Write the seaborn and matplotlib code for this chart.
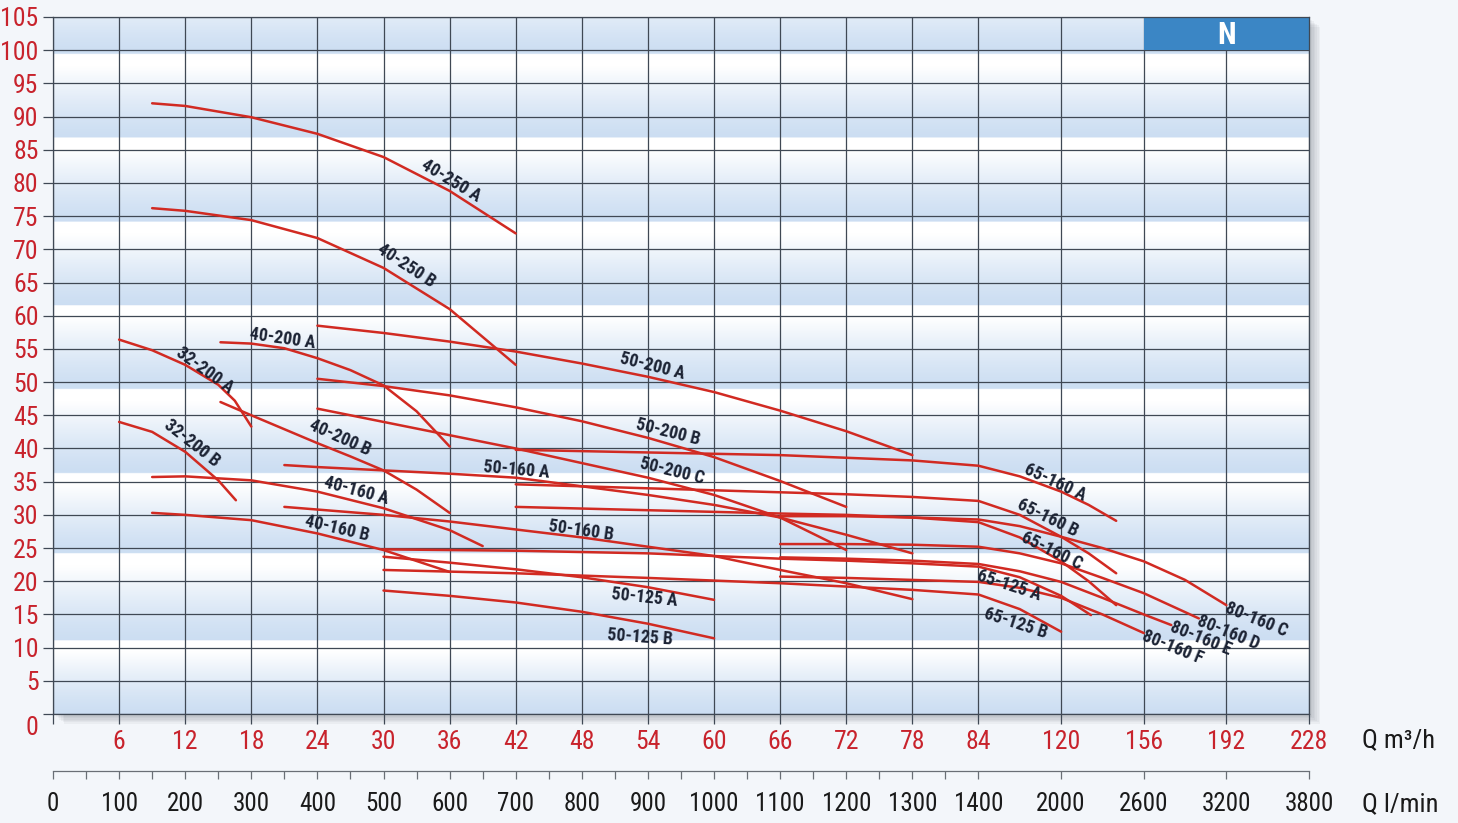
import os
import numpy as np
import pandas as pd
import matplotlib
matplotlib.use("Agg")
import matplotlib.pyplot as plt
import seaborn as sns
from matplotlib.patches import Rectangle
from matplotlib import font_manager as fm

# ---------------- data ----------------
q_ticks = [0, 6, 12, 18, 24, 30, 36, 42, 48, 54, 60, 66, 72, 78, 84, 120, 156, 192, 228]
lpm_major = [0, 100, 200, 300, 400, 500, 600, 700, 800, 900, 1000, 1100, 1200, 1300, 1400,
             2000, 2600, 3200, 3800]
lpm_minor = [50, 150, 250, 350, 450, 550, 650, 750, 850, 950, 1050, 1150, 1250, 1350]
h_ticks = list(range(0, 106, 5))

q_40_250_A = [9, 12, 18, 24, 30, 36, 42]
h_40_250_A = [92.0, 91.6, 89.9, 87.4, 83.9, 78.8, 72.4]
q_40_250_B = [9, 12, 18, 24, 30, 36, 42]
h_40_250_B = [76.2, 75.8, 74.4, 71.7, 67.2, 61.0, 52.6]
q_32_200_A = [6, 9, 12, 15, 16.5, 18]
h_32_200_A = [56.4, 54.8, 52.6, 49.6, 47.2, 43.3]
q_32_200_B = [6, 9, 12, 15, 16.6]
h_32_200_B = [44.0, 42.5, 39.5, 35.2, 32.2]
q_40_200_A = [15.2, 18, 21, 24, 27, 30, 33, 36]
h_40_200_A = [56.0, 55.8, 55.1, 53.6, 51.8, 49.5, 45.6, 40.3]
q_40_200_B = [15.2, 18, 21, 24, 27, 30, 33, 36]
h_40_200_B = [47.0, 45.0, 42.9, 40.8, 38.8, 36.7, 33.8, 30.3]
q_40_160_A = [9, 12, 18, 24, 30, 36, 39]
h_40_160_A = [35.7, 35.8, 35.2, 33.5, 31.0, 27.7, 25.3]
q_40_160_B = [9, 12, 18, 24, 30, 36]
h_40_160_B = [30.3, 30.0, 29.2, 27.2, 24.7, 21.4]
q_50_200_A = [24, 30, 36, 42, 48, 54, 60, 66, 72, 78]
h_50_200_A = [58.5, 57.4, 56.1, 54.6, 52.8, 50.8, 48.5, 45.7, 42.6, 39.0]
q_50_200_B = [24, 30, 36, 42, 48, 54, 60, 66, 72]
h_50_200_B = [50.5, 49.4, 48.0, 46.2, 44.1, 41.6, 38.7, 35.1, 31.2]
q_50_200_C = [24, 30, 36, 42, 48, 54, 60, 66, 72]
h_50_200_C = [46.0, 44.0, 42.0, 40.0, 37.8, 35.6, 33.0, 29.6, 24.7]
q_50_160_A = [21, 24, 30, 36, 42, 48, 54, 60, 66, 72, 78]
h_50_160_A = [37.5, 37.2, 36.7, 36.2, 35.6, 34.3, 33.0, 31.5, 29.6, 27.0, 24.2]
q_50_160_B = [21, 30, 36, 42, 48, 54, 60, 66, 72, 78]
h_50_160_B = [31.2, 30.0, 29.0, 27.8, 26.6, 25.2, 23.8, 21.7, 19.7, 17.3]
q_50_125_A = [30, 36, 42, 48, 54, 60]
h_50_125_A = [23.7, 22.8, 21.8, 20.6, 19.1, 17.2]
q_50_125_B = [30, 36, 42, 48, 54, 60]
h_50_125_B = [18.6, 17.8, 16.8, 15.4, 13.6, 11.4]
q_65_160_A = [42, 48, 54, 60, 66, 72, 78, 84, 102, 120, 132, 144]
h_65_160_A = [39.8, 39.6, 39.4, 39.2, 39.0, 38.6, 38.2, 37.4, 35.8, 33.5, 31.5, 29.1]
q_65_160_B = [42, 54, 66, 72, 78, 84, 102, 120, 132, 144]
h_65_160_B = [34.6, 34.0, 33.4, 33.1, 32.7, 32.1, 30.0, 26.7, 24.2, 21.2]
q_65_160_C = [42, 54, 66, 72, 78, 84, 102, 120, 132, 144]
h_65_160_C = [31.2, 30.7, 30.2, 30.0, 29.6, 28.9, 26.6, 23.0, 20.0, 16.4]
q_65_125_A = [30, 42, 54, 66, 72, 78, 84, 102, 120, 133]
h_65_125_A = [24.8, 24.6, 24.2, 23.4, 23.1, 22.7, 22.2, 20.6, 17.8, 14.9]
q_65_125_B = [30, 42, 54, 66, 72, 78, 84, 102, 120]
h_65_125_B = [21.7, 21.2, 20.5, 19.7, 19.2, 18.7, 18.0, 15.8, 12.4]
q_80_160_C = [66, 72, 78, 84, 102, 120, 138, 156, 174, 192]
h_80_160_C = [29.8, 29.8, 29.6, 29.3, 28.3, 26.7, 25.0, 23.0, 20.2, 16.4]
q_80_160_D = [66, 72, 78, 84, 102, 120, 138, 156, 180]
h_80_160_D = [25.6, 25.6, 25.5, 25.2, 24.2, 22.7, 20.5, 18.2, 14.4]
q_80_160_E = [66, 72, 78, 84, 102, 120, 138, 156, 168]
h_80_160_E = [23.6, 23.4, 23.1, 22.6, 21.5, 19.9, 17.5, 15.0, 13.4]
q_80_160_F = [66, 72, 78, 84, 102, 120, 138, 156]
h_80_160_F = [20.7, 20.5, 20.2, 19.9, 19.0, 17.5, 15.0, 12.2]

curves = {
    "40-250 A": (q_40_250_A, h_40_250_A), "40-250 B": (q_40_250_B, h_40_250_B),
    "32-200 A": (q_32_200_A, h_32_200_A), "32-200 B": (q_32_200_B, h_32_200_B),
    "40-200 A": (q_40_200_A, h_40_200_A), "40-200 B": (q_40_200_B, h_40_200_B),
    "40-160 A": (q_40_160_A, h_40_160_A), "40-160 B": (q_40_160_B, h_40_160_B),
    "50-200 A": (q_50_200_A, h_50_200_A), "50-200 B": (q_50_200_B, h_50_200_B),
    "50-200 C": (q_50_200_C, h_50_200_C),
    "50-160 A": (q_50_160_A, h_50_160_A), "50-160 B": (q_50_160_B, h_50_160_B),
    "50-125 A": (q_50_125_A, h_50_125_A), "50-125 B": (q_50_125_B, h_50_125_B),
    "65-160 A": (q_65_160_A, h_65_160_A), "65-160 B": (q_65_160_B, h_65_160_B),
    "65-160 C": (q_65_160_C, h_65_160_C),
    "65-125 A": (q_65_125_A, h_65_125_A), "65-125 B": (q_65_125_B, h_65_125_B),
    "80-160 C": (q_80_160_C, h_80_160_C), "80-160 D": (q_80_160_D, h_80_160_D),
    "80-160 E": (q_80_160_E, h_80_160_E), "80-160 F": (q_80_160_F, h_80_160_F),
}

# label placement (q, h, rotation)
label_pos = {
    "40-250 A": (36.1, 80.4, -31), "40-250 B": (32.1, 67.6, -33),
    "40-200 A": (20.8, 56.5, -8), "32-200 A": (13.8, 51.7, -36),
    "32-200 B": (12.6, 40.8, -38), "40-200 B": (26.0, 41.6, -24),
    "40-160 A": (27.5, 33.7, -15), "40-160 B": (25.8, 27.9, -13),
    "50-200 A": (54.4, 52.4, -14), "50-200 B": (55.8, 42.5, -14),
    "50-200 C": (56.2, 36.6, -14), "50-160 A": (42.1, 36.7, -5),
    "50-160 B": (47.9, 27.7, -8), "50-125 A": (53.7, 17.5, -6),
    "50-125 B": (53.3, 11.6, -4), "65-160 A": (117.2, 34.9, -25),
    "65-160 B": (114.1, 29.5, -26), "65-160 C": (115.9, 24.5, -26),
    "65-125 A": (97.5, 19.4, -18), "65-125 B": (100.1, 13.7, -18),
    "80-160 C": (204.9, 14.2, -22), "80-160 D": (192.7, 12.2, -22),
    "80-160 E": (180.9, 11.4, -22), "80-160 F": (168.7, 10.1, -22),
}

band_edges = [0, 11.1, 24.2, 36.3, 49.0, 61.6, 74.2, 86.9, 99.5, 112.1]

# ---------------- fonts: look for a narrow / condensed face ----------------
def _is_bold(f):
    w = f.weight
    if isinstance(w, str):
        return w.lower() in ("bold", "heavy", "black", "demibold", "semibold", "extra bold")
    return w >= 600


def _is_narrow(f):
    s = str(f.stretch).lower()
    base = os.path.basename(f.fname).lower()
    return ("narrow" in f.name.lower() or "condensed" in f.name.lower()
            or "condensed" in s or "narrow" in base or "condensed" in base)


pref = ["Roboto Condensed", "Liberation Sans Narrow", "Open Sans Condensed",
        "Noto Sans", "DejaVu Sans", "Open Sans", "Roboto"]
narrow_fonts = [f for f in fm.fontManager.ttflist if _is_narrow(f)
                and str(f.style).lower() == "normal"]


def pick(bold):
    cands = [f for f in narrow_fonts if _is_bold(f) == bold]
    for p in pref:
        for f in cands:
            if f.name == p or f.name.startswith(p):
                return f.fname
    if cands:
        return cands[0].fname
    return None


reg_path = pick(False)
bold_path = pick(True)


def fp(size, bold=False):
    path = bold_path if bold else reg_path
    if path is None:
        return fm.FontProperties(family="DejaVu Sans", size=size * 0.85,
                                 weight="bold" if bold else "normal")
    return fm.FontProperties(fname=path, size=size)


# ---------------- style ----------------
sns.set_style("white")
plt.rcParams["font.family"] = ["DejaVu Sans"]
RED = "#d12a22"
TICKRED = "#c8232c"
GRID = "#3f4854"
NAVY = "#1b2233"

W, H = 1458, 823
fig = plt.figure(figsize=(W / 100, H / 100), dpi=100)
fig.patch.set_facecolor("#f3f6fa")

L, R, T, B = 53 / W, 1309 / W, 1 - 17 / H, 1 - 714 / H
ax = fig.add_axes([L, B, R - L, T - B])


def fwd(q):
    q = np.asarray(q, dtype=float)
    return np.where(q <= 84, q / 6.0, 14 + (q - 84) / 28.8)


def inv(u):
    u = np.asarray(u, dtype=float)
    return np.where(u <= 14, u * 6.0, 84 + (u - 14) * 28.8)


ax.set_xscale("function", functions=(fwd, inv))

# shadow behind plot area
for i in range(1, 8):
    fig.patches.append(Rectangle((L + i * 1.6 / W, B - i * 1.4 / H), R - L, T - B,
                                 transform=fig.transFigure, facecolor="#2a3340",
                                 alpha=0.045, edgecolor="none", zorder=-5))

# background bands (white top -> light blue bottom)
ys = np.linspace(105, 0, 1400)
blue = np.array([0.80, 0.87, 0.95])
white = np.array([1.0, 1.0, 1.0])
img = np.zeros((len(ys), 2, 3))
for k, y in enumerate(ys):
    idx = np.searchsorted(band_edges, y, side="right") - 1
    lo, hi = band_edges[idx], band_edges[idx + 1]
    t = (y - lo) / (hi - lo)
    w = np.clip(t / 0.85, 0, 1) ** 1.3
    img[k, :, :] = blue * (1 - w) + white * w
ax.imshow(img, extent=(0, 1, 0, 1), transform=ax.transAxes, aspect="auto",
          interpolation="bilinear", zorder=0)

# curves
rows = []
for name, (qs, hs) in curves.items():
    for qv, hv in zip(qs, hs):
        rows.append({"pump": name, "q": qv, "h": hv})
df = pd.DataFrame(rows)
sns.lineplot(data=df, x="q", y="h", hue="pump", palette={n: RED for n in curves},
             estimator=None, sort=False, legend=False, lw=1.8, ax=ax, zorder=3)
for ln in ax.get_lines():
    ln.set_solid_joinstyle("round")
    ln.set_solid_capstyle("round")

for name, (qx, hy, rot) in label_pos.items():
    ax.text(qx, hy, name, rotation=rot, rotation_mode="anchor", ha="center", va="center",
            fontproperties=fp(12.8, True), color=NAVY, zorder=5)

# N box
ax.add_patch(Rectangle((156, 100), 72, 5, facecolor="#3b86c5", edgecolor="none", zorder=2))
ax.text(192, 102.3, "N", color="white", fontproperties=fp(22, True),
        ha="center", va="center", zorder=5)

ax.set_xlim(0, 228)
ax.set_ylim(0, 105)
ax.set_xticks(q_ticks)
ax.set_xticklabels([""] + [str(v) for v in q_ticks[1:]])
ax.set_yticks(h_ticks)
ax.set_yticklabels([""] + [str(v) for v in h_ticks[1:]])
ax.set_axisbelow(True)
ax.grid(True, color=GRID, lw=0.9)
ax.tick_params(axis="both", direction="out", length=7.5, width=0.9, color=GRID,
               labelcolor=TICKRED, bottom=True, left=True)
ax.tick_params(axis="x", pad=4)
ax.tick_params(axis="y", pad=3)
for lab in ax.get_xticklabels() + ax.get_yticklabels():
    lab.set_fontproperties(fp(18.5))
for s in ax.spines.values():
    s.set_color(GRID)
    s.set_linewidth(0.9)
ax.set_xlabel("")
ax.set_ylabel("")

fig.text(38 / W, 1 - 728 / H, "0", ha="right", va="center",
         color=TICKRED, fontproperties=fp(18.5))

# lower l/min axis
ax2 = fig.add_axes([L, 1 - 771 / H, R - L, 0.0005])
ax2.set_xscale("function", functions=(fwd, inv))
ax2.set_xlim(0, 228)
ax2.set_xticks([v * 0.06 for v in lpm_major])
ax2.set_xticklabels([str(v) for v in lpm_major])
ax2.set_xticks([v * 0.06 for v in lpm_minor], minor=True)
ax2.set_yticks([])
ax2.patch.set_alpha(0)
for k in ["top", "left", "right"]:
    ax2.spines[k].set_visible(False)
ax2.spines["bottom"].set_color("#6a6f76")
ax2.spines["bottom"].set_linewidth(0.9)
ax2.tick_params(axis="x", which="both", direction="out", length=6, width=0.9,
                color="#6a6f76", labelcolor="#1a1a1a", pad=9, bottom=True)
for lab in ax2.get_xticklabels():
    lab.set_fontproperties(fp(18))

fig.text(1362 / W, 1 - 740 / H, "Q m³/h", ha="left", va="center",
         color="#1a1a1a", fontproperties=fp(19))
fig.text(1362 / W, 1 - 804 / H, "Q l/min", ha="left", va="center",
         color="#1a1a1a", fontproperties=fp(19))

fig.savefig("out.png", dpi=100, facecolor=fig.get_facecolor())
